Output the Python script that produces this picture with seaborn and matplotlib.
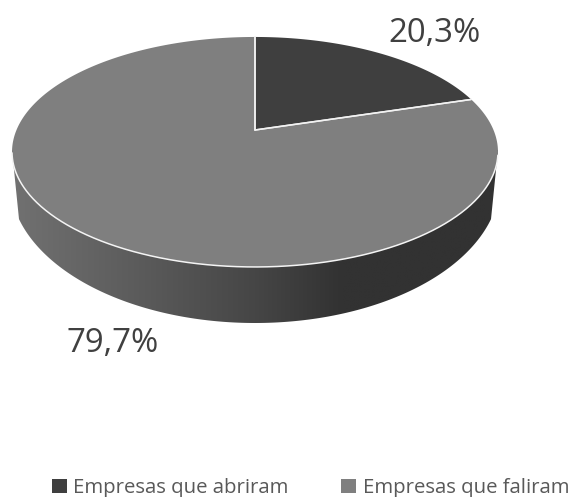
import numpy as np
import matplotlib
matplotlib.use("Agg")
import matplotlib.pyplot as plt
from matplotlib.colors import LinearSegmentedColormap
from matplotlib.patches import Patch, Polygon
import seaborn as sns

# Share of companies opened versus closed
categories = ["Empresas que abriram", "Empresas que faliram"]
shares = [20.3, 79.7]
value_labels = ["20,3%", "79,7%"]
slice_colors = ["#3f3f3f", "#7f7f7f"]

# Shading of the pie's rim, from the left edge to the right edge
rim_stops = [(0.0, "#717171"), (0.25, "#5c5c5c"), (0.5, "#464646"),
             (0.68, "#323232"), (1.0, "#323232")]

TEXT_COLOR = "#404040"

sns.set_theme(style="white")
plt.rcParams["font.family"] = ["Open Sans", "DejaVu Sans"]

fig = plt.figure(figsize=(5.71, 4.97), dpi=100)
ax = fig.add_axes([0, 0, 1, 1])
ax.set_xlim(0, 571)
ax.set_ylim(497, 0)
ax.axis("off")

# Tilted-disc projection: the hub sits above the centre of the visible ellipse
HUB_X, HUB_Y = 255.0, 130.0
TILT = 0.191
SCALE_X, SCALE_Y = 238.5, 110.8


def project(theta):
    """Map a clockwise angle from twelve o'clock onto the disc's top face."""
    u, v = np.sin(theta), np.cos(theta)
    w = 1 + TILT * v
    return HUB_X + SCALE_X * u / w, HUB_Y - SCALE_Y * v / w


# Rim: a lower arc joined to the top face by two slightly inward-leaning sides
reach = np.arcsin(236 / 245)
phi = np.linspace(-reach, reach, 400)
low_x = HUB_X + 245 * np.sin(phi)
low_y = 181 + 142 * np.cos(phi)
rim_outline = np.r_[[[12, 150]], np.c_[low_x, low_y], [[498, 150]]]

order = np.linspace(0, 1, 256).reshape(1, -1)
rim_cmap = LinearSegmentedColormap.from_list("rim", rim_stops)
rim_image = ax.imshow(order, cmap=rim_cmap, extent=(12, 498, 340, 100),
                      aspect="auto", zorder=1)
rim_patch = Polygon(rim_outline, closed=True, transform=ax.transData,
                    facecolor="none", edgecolor="none")
ax.add_patch(rim_patch)
rim_image.set_clip_path(rim_patch)
ax.set_xlim(0, 571)
ax.set_ylim(497, 0)

# Top face, one wedge per category, with white seams
edges = np.cumsum([0] + shares) / sum(shares) * 2 * np.pi
for start, stop, color in zip(edges[:-1], edges[1:], slice_colors):
    arc = np.linspace(start, stop, 400)
    x, y = project(arc)
    ax.fill(np.r_[HUB_X, x], np.r_[HUB_Y, y], color=color, lw=0, zorder=2)
    ax.plot(np.r_[HUB_X, x[0]], np.r_[HUB_Y, y[0]], color="#f2f2f2", lw=1.1, zorder=3)
    ax.plot(np.r_[HUB_X, x[-1]], np.r_[HUB_Y, y[-1]], color="#f2f2f2", lw=1.1, zorder=3)

# White highlight along the front of the top edge
front = np.linspace(np.pi / 2 + 0.22, 3 * np.pi / 2 - 0.2, 400)
ax.plot(*project(front), color="#f4f4f4", lw=1.1, zorder=3)

# Value labels
ax.text(434, 34, value_labels[0], fontsize=23.8, color=TEXT_COLOR, ha="center", va="center")
ax.text(113, 343, value_labels[1], fontsize=23.8, color=TEXT_COLOR, ha="center", va="center")

handles = [Patch(facecolor=c, edgecolor="none") for c in slice_colors]
ax.legend(handles, categories, loc="lower left", bbox_to_anchor=(52 / 571, -0.002),
          ncol=2, frameon=False, fontsize=14.65, labelcolor="#595959",
          handlelength=0.74, handleheight=0.74, handletextpad=0.3,
          columnspacing=2.6, borderpad=0, borderaxespad=0)

fig.savefig("out.png", dpi=100)
